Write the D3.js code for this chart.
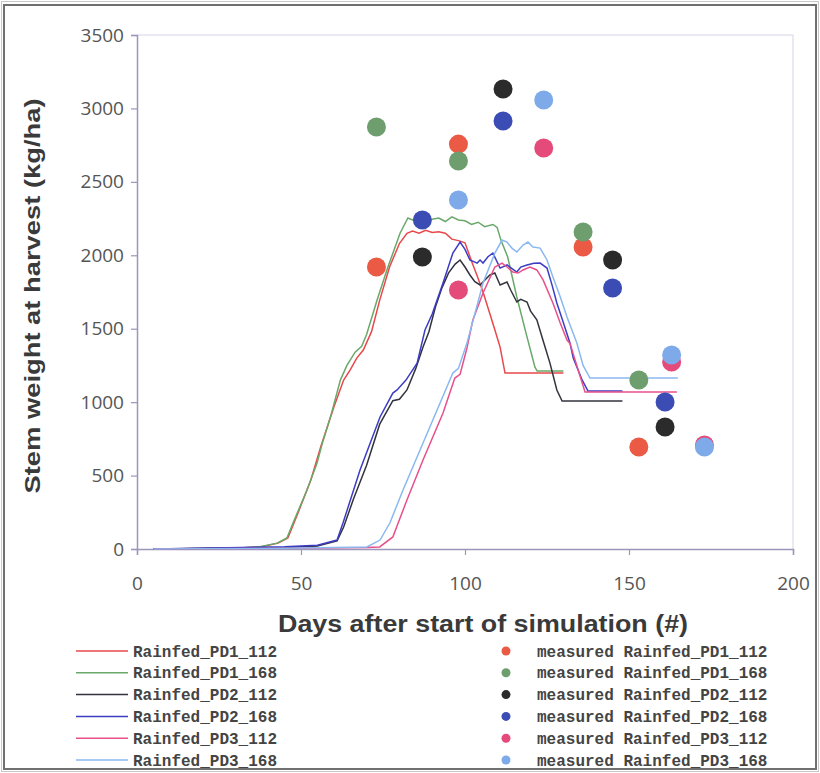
<!DOCTYPE html>
<html>
<head>
<meta charset="utf-8">
<script src="https://cdn.jsdelivr.net/npm/d3@7/dist/d3.min.js"></script>
<style>
  body { margin: 0; background: #fff; }
  svg { display: block; }
</style>
</head>
<body>
<svg id="chart" width="820" height="773"></svg>
<script>
// simulated stem weight, [day, kg/ha]
const simPD1_112 = [[5,0],[30,5],[38,15],[43,40],[46,75],[49,240],[53,470],[56,695],[60,965],[63,1150],[65,1220],[67,1300],[69,1355],[71.5,1480],[74,1695],[77,1920],[80,2080],[82.3,2150],[84,2165],[86,2150],[88,2170],[90,2155],[92,2160],[94,2150],[96,2110],[98,2100],[100,2085],[102,1960],[103.7,1860],[105.5,1750],[107.6,1600],[109,1500],[110.7,1375],[112.2,1198],[130,1198]];
const simPD1_168 = [[5,0],[30,5],[37.5,15],[42.7,40],[45.7,75],[48,200],[51.8,400],[54.9,585],[56.5,720],[59,900],[62,1150],[64,1250],[66.5,1340],[68.5,1380],[70,1460],[73.2,1695],[76.5,1920],[80.2,2150],[82.6,2254],[84,2240],[86,2260],[88,2235],[90,2245],[92,2254],[94,2230],[96,2262],[98,2240],[100,2235],[102,2210],[104,2225],[106,2195],[108.5,2210],[109.8,2190],[111,2100],[113,1990],[115.8,1716],[118.9,1444],[121.3,1240],[122,1212],[130,1212]];
const simPD2_112 = [[5,0],[45,10],[55,20],[61,55],[63,150],[66,340],[70,570],[74,850],[78,1010],[80,1020],[82.3,1083],[85,1230],[87.2,1375],[89,1480],[91,1650],[93,1780],[95,1880],[97,1940],[98.5,1968],[100,1920],[101.5,1866],[103,1820],[104.6,1798],[106,1830],[107.6,1866],[109.1,1879],[110.7,1798],[112.8,1818],[114,1760],[115.8,1682],[117,1700],[118.9,1682],[120,1620],[121.9,1560],[123.8,1420],[125.9,1266],[128,1083],[129.6,1008],[148,1008]];
const simPD2_168 = [[5,0],[45,15],[55,25],[61,61],[62.8,177],[68,538],[74.1,899],[78,1062],[79.3,1083],[82,1150],[85.4,1266],[87.8,1491],[90,1600],[93.3,1811],[96.3,2015],[98.5,2090],[100,2040],[101.5,1968],[103.7,1947],[104.6,1968],[105.5,1947],[107,1990],[108.5,2015],[110.7,1913],[112.8,1934],[115.8,1886],[117,1920],[118.9,1934],[121,1945],[122.9,1947],[125,1913],[126.5,1800],[128,1675],[130,1540],[132,1403],[133,1300],[135.7,1151],[137.5,1076],[148,1076]];
const simPD3_112 = [[5,0],[45,5],[70,10],[74,14],[78,82],[82.3,334],[87.2,606],[93.3,926],[96.9,1164],[98.5,1190],[100.6,1369],[102.4,1560],[105.5,1743],[109.1,1920],[111.3,1947],[112.8,1920],[114.6,1886],[116.2,1879],[117.7,1900],[119.8,1920],[121.9,1900],[123.8,1832],[126.8,1675],[129,1540],[131.1,1423],[132,1400],[134.5,1219],[136.6,1069],[164.6,1069]];
const simPD3_168 = [[5,0],[45,5],[70.1,14],[74.1,61],[77.1,177],[81.1,402],[86.3,674],[92.4,994],[96.3,1198],[98,1230],[100.6,1403],[103,1600],[105.5,1811],[109.1,2015],[111.3,2104],[112.8,2090],[114.3,2049],[115.8,2022],[117.7,2070],[119.2,2090],[120.7,2056],[122.9,2049],[125,1968],[126.8,1852],[129,1720],[131.1,1580],[134.1,1403],[136,1250],[138.1,1164],[164.9,1164]];

// measured stem weight, [day, kg/ha]
const obsPD1_112 = [[73,1920],[98,2757],[136,2056],[153,694]];
const obsPD1_168 = [[73,2873],[98,2642],[136,2158],[153,1151]];
const obsPD2_112 = [[87,1988],[111.6,3132],[145,1968],[161,831]];
const obsPD2_168 = [[87,2240],[111.6,2914],[145,1777],[161,1001]];
const obsPD3_112 = [[98,1764],[124,2730],[163,1273],[173,708]];
const obsPD3_168 = [[98,2376],[124,3057],[163,1321],[173,694]];

const seriesNames = ['Rainfed_PD1_112','Rainfed_PD1_168','Rainfed_PD2_112','Rainfed_PD2_168','Rainfed_PD3_112','Rainfed_PD3_168'];
const lineColors = ['#e8484c','#6aa86a','#33333f','#3c3cc4','#e8508a','#8ab8f0'];
const dotColors = ['#ea5a45','#6e9e6e','#2b2b2b','#3b4db5','#e44a7a','#7eaaea'];
const simData = [simPD1_112, simPD1_168, simPD2_112, simPD2_168, simPD3_112, simPD3_168];
const obsData = [obsPD1_112, obsPD1_168, obsPD2_112, obsPD2_168, obsPD3_112, obsPD3_168];

const xTicks = [0, 50, 100, 150, 200];
const yTicks = [0, 500, 1000, 1500, 2000, 2500, 3000, 3500];

const svg = d3.select('#chart');
const plot = { left: 137, right: 793, top: 35, bottom: 549 };
const axisColor = '#9a96bc';

// outer frame
svg.append('rect').attr('x', 1.5).attr('y', 1.5).attr('width', 817).attr('height', 770)
    .attr('fill', 'none').attr('stroke', '#c8c8c8').attr('stroke-width', 1);
svg.append('rect').attr('x', 4).attr('y', 5).attr('width', 812).attr('height', 764)
    .attr('fill', 'none').attr('stroke', '#707070').attr('stroke-width', 2);

const x = d3.scaleLinear().domain([0, 200]).range([plot.left, plot.right]);
const y = d3.scaleLinear().domain([0, 3500]).range([plot.bottom, plot.top]);

// plot border (top/right)
svg.append('path')
    .attr('d', `M${plot.left},${plot.top}H${plot.right}V${plot.bottom}`)
    .attr('fill', 'none').attr('stroke', '#d6d4e4').attr('stroke-width', 1);

const yAxis = svg.append('g')
    .attr('transform', `translate(${plot.left},0)`)
    .call(d3.axisLeft(y).tickValues(yTicks).tickSize(6).tickPadding(7).tickFormat(d3.format('d')));
const xAxis = svg.append('g')
    .attr('transform', `translate(0,${plot.bottom})`)
    .call(d3.axisBottom(x).tickValues(xTicks).tickSize(6).tickPadding(22).tickFormat(d3.format('d')));

[yAxis, xAxis].forEach(g => {
    g.select('.domain').attr('stroke', axisColor).attr('stroke-width', 1.5);
    g.selectAll('.tick line').attr('stroke', axisColor).attr('stroke-width', 1.2);
    g.selectAll('.tick text')
        .attr('fill', '#555')
        .style('font-family', '"Open Sans", sans-serif')
        .style('font-size', '19px');
});

// simulated lines
const line = d3.line().x(d => x(d[0])).y(d => y(d[1]));
svg.append('g').selectAll('path')
    .data(simData)
    .join('path')
    .attr('d', line)
    .attr('fill', 'none')
    .attr('stroke', (d, i) => lineColors[i])
    .attr('stroke-width', 1.5);

// measured dots
obsData.forEach((pts, i) => {
    svg.append('g').selectAll('circle')
        .data(pts)
        .join('circle')
        .attr('cx', d => x(d[0]))
        .attr('cy', d => y(d[1]))
        .attr('r', 9.5)
        .attr('fill', dotColors[i]);
});

// axis titles
svg.append('text')
    .attr('transform', `translate(40,${(plot.top + plot.bottom) / 2 + 4}) rotate(-90)`)
    .attr('text-anchor', 'middle')
    .attr('fill', '#3a3a3a')
    .attr('textLength', 395)
    .attr('lengthAdjust', 'spacingAndGlyphs')
    .style('font-family', '"Liberation Sans", Arial, sans-serif')
    .style('font-weight', 'bold')
    .style('font-size', '22px')
    .text('Stem weight at harvest (kg/ha)');

svg.append('text')
    .attr('x', 483)
    .attr('y', 632)
    .attr('text-anchor', 'middle')
    .attr('fill', '#3a3a3a')
    .attr('textLength', 410)
    .attr('lengthAdjust', 'spacingAndGlyphs')
    .style('font-family', '"Liberation Sans", Arial, sans-serif')
    .style('font-weight', 'bold')
    .style('font-size', '23px')
    .text('Days after start of simulation (#)');

// legend
const legendY = d3.scalePoint().domain(seriesNames).range([651, 760]);
const legendFont = '"Liberation Mono", "Courier New", monospace';

const leftLeg = svg.append('g').selectAll('g').data(seriesNames).join('g')
    .attr('transform', d => `translate(0,${legendY(d)})`);
leftLeg.append('line')
    .attr('x1', 76).attr('x2', 128)
    .attr('stroke', (d, i) => lineColors[i]).attr('stroke-width', 1.5);
leftLeg.append('text')
    .attr('x', 133).attr('dy', '0.35em')
    .attr('fill', '#444')
    .style('font-family', legendFont).style('font-size', '16px').style('font-weight', 'bold')
    .text(d => d);

const rightLeg = svg.append('g').selectAll('g').data(seriesNames).join('g')
    .attr('transform', d => `translate(0,${legendY(d)})`);
rightLeg.append('circle')
    .attr('cx', 506).attr('r', 4.5)
    .attr('fill', (d, i) => dotColors[i]);
rightLeg.append('text')
    .attr('x', 537).attr('dy', '0.35em')
    .attr('fill', '#444')
    .style('font-family', legendFont).style('font-size', '16px').style('font-weight', 'bold')
    .text(d => 'measured ' + d);
</script>
</body>
</html>
